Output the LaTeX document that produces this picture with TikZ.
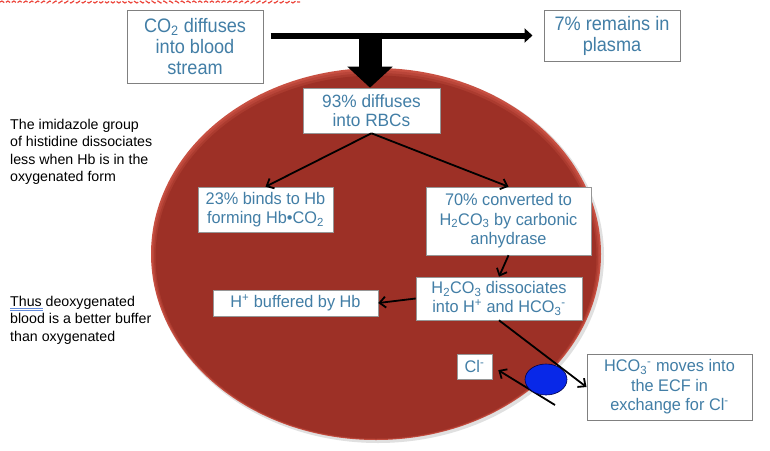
\documentclass[tikz,border=0pt]{standalone}
\usepackage{fontspec}
\setmainfont{Liberation Sans}
\newfontfamily\topfont[FakeStretch=0.93]{Liberation Sans}
\newfontfamily\boxfont[FakeStretch=0.97]{Liberation Sans}
\usetikzlibrary{arrows.meta,decorations.pathmorphing,shapes.geometric}
\definecolor{txtblue}{RGB}{66,126,166}
\definecolor{boxgray}{RGB}{150,150,150}
\definecolor{rbc}{RGB}{157,48,38}
\definecolor{rbcrim}{RGB}{200,80,66}
\definecolor{chan}{RGB}{8,40,232}
\definecolor{spellred}{RGB}{236,70,60}
\definecolor{spellblue}{RGB}{100,140,220}
\begin{document}
\begin{tikzpicture}[x=1pt,y=-1pt,
  box/.style={draw=boxgray, fill=white, line width=0.6pt, align=center, inner sep=0pt, text=txtblue, font={\boxfont\fontsize{16.8}{19.5}\selectfont}},
  topbox/.style={box, draw=black!50, line width=1pt, font={\topfont\fontsize{19.5}{21}\selectfont}},
  note/.style={align=left, anchor=north west, inner sep=0pt, font={\fontsize{14.2}{17.3}\selectfont}},
  conn/.style={line width=1.8pt, -{Straight Barb[length=6pt,width=11pt]}},
]
\useasboundingbox (0,0) rectangle (770,450);
\fill[white] (0,0) rectangle (770,450);

% spell-check squiggle at top
\draw[spellred, line width=1.2pt, dash pattern=on 5pt off 2pt, decorate, decoration={snake, amplitude=1pt, segment length=6pt}] (0,2) -- (300,2);

% red blood cell
\fill[black!12] (378,256) ellipse [x radius=226, y radius=187];
\fill[rbcrim] (376,254) ellipse [x radius=225, y radius=186];
\fill[rbcrim!66!rbc] (376,255) ellipse [x radius=223.5, y radius=184.5];
\fill[rbcrim!33!rbc] (376,256) ellipse [x radius=222, y radius=183];
\fill[rbc] (376,257) ellipse [x radius=220.5, y radius=181.5];

% top boxes
\node[topbox, minimum width=136pt, minimum height=73pt] (co2) at (195,46.5) {CO\textsubscript{2} diffuses\\into blood\\stream};
\node[topbox, minimum width=136pt, minimum height=51pt] (p7) at (612,35.5) {7\% remains in\\plasma};

% inner boxes
\node[box, minimum width=137pt, minimum height=45pt, font={\boxfont\fontsize{17.8}{19.5}\selectfont}] (b93) at (371.5,110.5) {93\% diffuses\\into RBCs};
\node[box, minimum width=135pt, minimum height=45pt] (b23) at (265.5,209.5) {23\% binds to Hb\\forming Hb•CO\textsubscript{2}};
\node[box, minimum width=165pt, minimum height=68pt] (b70) at (508.5,221) {70\% converted to\\H\textsubscript{2}CO\textsubscript{3} by carbonic\\anhydrase};
\node[box, minimum width=166pt, minimum height=43pt] (bH2) at (499,298.5) {H\textsubscript{2}CO\textsubscript{3} dissociates\\into H\textsuperscript{+} and HCO\textsubscript{3}\textsuperscript{-}};
\node[box, minimum width=165pt, minimum height=26pt] (bH) at (295.5,303) {H\textsuperscript{+} buffered by Hb};
\node[box, minimum width=35pt, minimum height=25pt] (bCl) at (474.5,366.5) {Cl\textsuperscript{-}};
\node[topbox, minimum width=165pt, minimum height=66pt, font={\boxfont\fontsize{16.8}{19.5}\selectfont}] (bHCO) at (669.5,387) {HCO\textsubscript{3}\textsuperscript{-} moves into\\the ECF in\\exchange for Cl\textsuperscript{-}};

% notes
\node[note] (n1) at (10,119) {The imidazole group\\of histidine dissociates\\less when Hb is in the\\oxygenated form};
\node[note] (n2) at (10,296) {Thus deoxygenated\\blood is a better buffer\\than oxygenated};
\draw[spellblue, line width=0.6pt] (10,308) -- (43,308) (10,310.5) -- (43,310.5);

% thick arrows
\draw[line width=6pt, shorten <=7pt, shorten >=11pt, -{Triangle[length=8pt,width=14pt]}] (co2.east |- p7.west) -- (p7.west);
\coordinate (join) at (370,32.5);
\draw[line width=23pt, -{Triangle[length=21pt,width=44pt]}] (join) -- (join |- b93.north);

% connectors
\draw[conn] (b93.south) -- (b23.north);
\draw[conn] (b93.south) -- (b70.north);
\draw[conn] (b70.south) -- (bH2.north);
\draw[conn] (bH2.west) -- (bH.east);
\coordinate (clstart) at (555,405);
\draw[conn, shorten >=7pt] (clstart) -- (bCl.east);
\node[ellipse, draw=black!70!blue, line width=0.6pt, fill=chan, minimum width=42pt, minimum height=31pt, inner sep=0pt] (chan) at (546,379.5) {};
\draw[conn] (bH2.south) -- (bHCO.west);
\end{tikzpicture}
\end{document}
